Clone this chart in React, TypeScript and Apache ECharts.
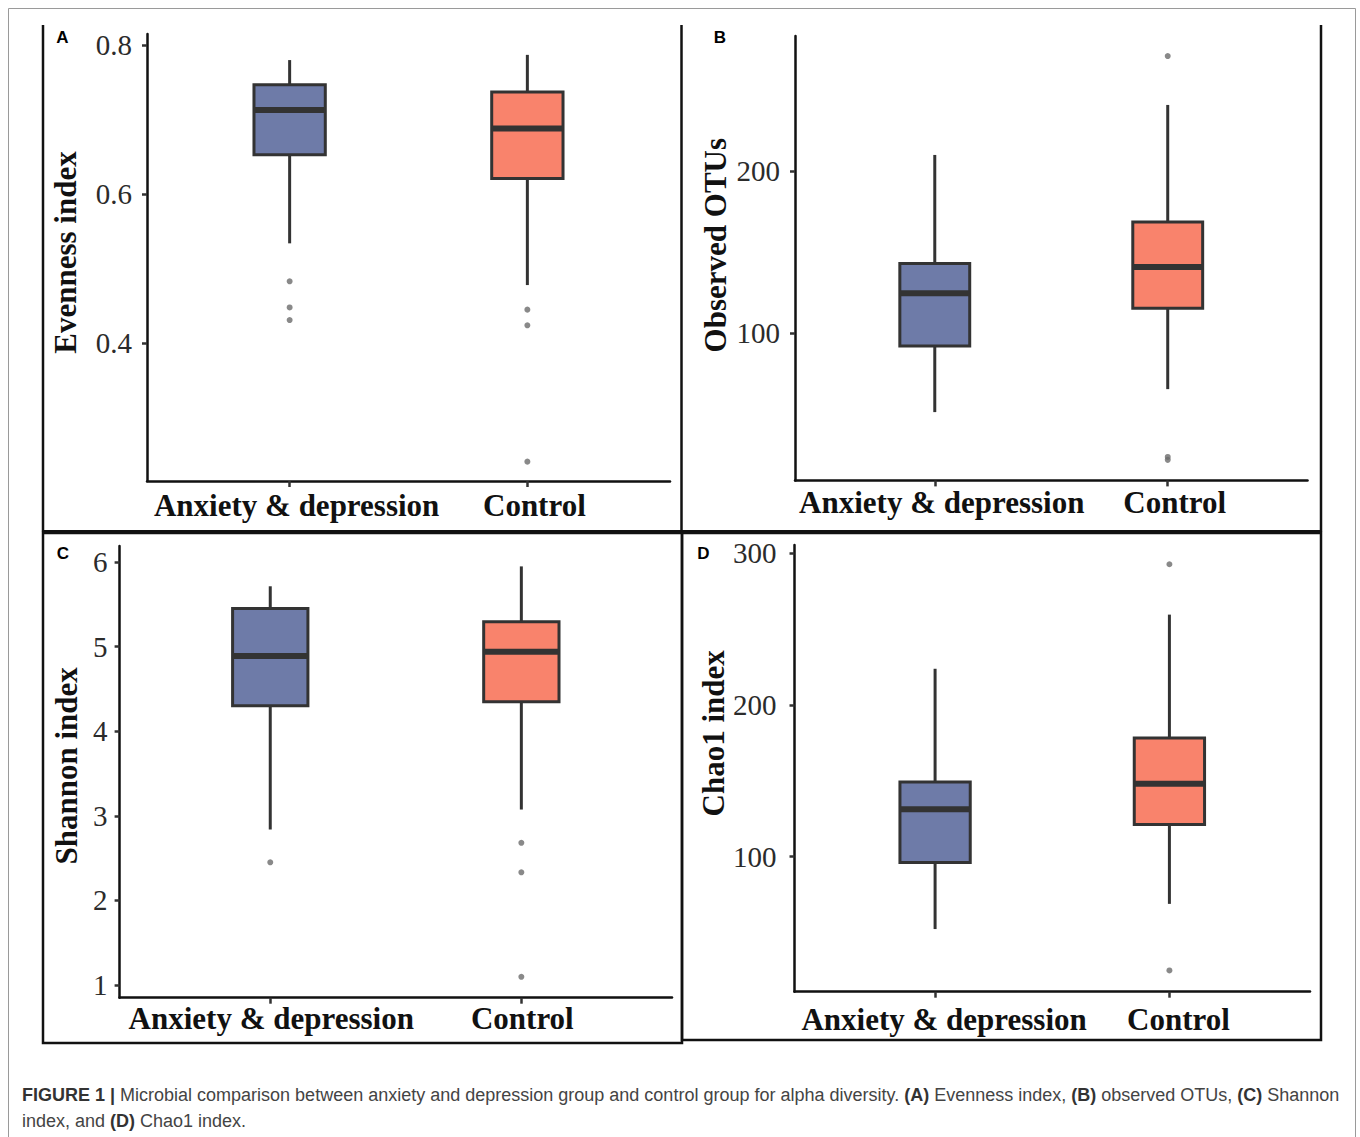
import React, { useEffect, useRef } from 'react';
import * as echarts from 'echarts';

// ---------------- data ----------------
const categories = ['Anxiety & depression', 'Control'];

// box statistics per group: [lower whisker, Q1, median, Q3, upper whisker]
const evennessStats = [
  [0.534, 0.653, 0.713, 0.747, 0.78],
  [0.478, 0.621, 0.688, 0.737, 0.787],
];
// outliers: [group position (1 = Anxiety & depression, 2 = Control), value]
const evennessOutliers = [
  [1, 0.483], [1, 0.448], [1, 0.431],
  [2, 0.445], [2, 0.424], [2, 0.241],
];
const evennessTicks = [0.4, 0.6, 0.8];

const otusStats = [
  [51.3, 92.1, 124.7, 143.2, 210.2],
  [65.5, 115.5, 140.9, 168.7, 241.1],
];
const otusOutliers = [[2, 271.3], [2, 23.6], [2, 21.8]];
const otusTicks = [100, 200];

const shannonStats = [
  [2.839, 4.302, 4.89, 5.451, 5.714],
  [3.075, 4.349, 4.941, 5.294, 5.949],
];
const shannonOutliers = [[1, 2.451], [2, 2.682], [2, 2.333], [2, 1.098]];
const shannonTicks = [1, 2, 3, 4, 5, 6];

const chao1Stats = [
  [52.3, 96.1, 131.3, 149.2, 223.9],
  [68.9, 121.2, 148.1, 178.3, 259.6],
];
const chao1Outliers = [[2, 292.8], [2, 25.0]];
const chao1Ticks = [100, 200, 300];

const panelTitles = ['Evenness index', 'Observed OTUs', 'Shannon index', 'Chao1 index'];
const panelLetters = ['A', 'B', 'C', 'D'];

// ---------------- layout / style ----------------
const SERIF = '"Liberation Serif", "Times New Roman", serif';
const SANS = '"Liberation Sans", Arial, sans-serif';
const groupColors = ['#6E7BA8', '#F9836C'];

const panels = [
  { stats: evennessStats, outliers: evennessOutliers, ticks: evennessTicks,
    left: 147, top: 34, width: 523, height: 447, yMin: 0.215, yMax: 0.815,
    nameGap: 66, nameShift: 5, xLabelMargin: 9, xLabelShift: 7, yLabelMargin: 15 },
  { stats: otusStats, outliers: otusOutliers, ticks: otusTicks,
    left: 795, top: 36, width: 512.5, height: 444.4, yMin: 9.1, yMax: 283.7,
    nameGap: 64, nameShift: 13, xLabelMargin: 6.5, xLabelShift: 7, yLabelMargin: 15 },
  { stats: shannonStats, outliers: shannonOutliers, ticks: shannonTicks,
    left: 119.6, top: 546, width: 552.4, height: 451.7, yMin: 0.851, yMax: 6.19,
    nameGap: 38, nameShift: 6, xLabelMargin: 5, xLabelShift: 1, yLabelMargin: 12 },
  { stats: chao1Stats, outliers: chao1Outliers, ticks: chao1Ticks,
    left: 794.5, top: 545, width: 515.5, height: 446.7, yMin: 11.0, yMax: 305.5,
    nameGap: 62, nameShift: 35, xLabelMargin: 12, xLabelShift: 9, yLabelMargin: 18 },
];

const letterPos = [[62.5, 37.5], [720, 37.5], [63, 553], [703.5, 553]];

function shiftPad(shift: number) {
  return shift >= 0 ? [0, 0, 0, shift * 2] : [0, -shift * 2, 0, 0];
}

function buildOption() {
  const grid: any[] = [];
  const xAxis: any[] = [];
  const yAxis: any[] = [];
  const series: any[] = [];

  panels.forEach((p, i) => {
    grid.push({ left: p.left, top: p.top, width: p.width, height: p.height, containLabel: false });
    xAxis.push({
      type: 'value', gridIndex: i, min: 0.4, max: 2.6,
      splitLine: { show: false },
      axisLine: { show: true, onZero: false, lineStyle: { color: '#111', width: 2.5 } },
      axisTick: { show: true, length: 6, customValues: [1, 2], lineStyle: { color: '#333', width: 2.5 } },
      axisLabel: {
        customValues: [1, 2],
        formatter: (v: number) => categories[Math.round(v) - 1] ?? '',
        fontFamily: SERIF, fontWeight: 'bold', fontSize: 31, color: '#111',
        margin: p.xLabelMargin, padding: shiftPad(p.xLabelShift),
      },
    });
    yAxis.push({
      type: 'value', gridIndex: i, min: p.yMin, max: p.yMax,
      name: panelTitles[i], nameLocation: 'middle', nameGap: p.nameGap, nameRotate: 90,
      nameTextStyle: { fontFamily: SERIF, fontWeight: 'bold', fontSize: 31, color: '#111', padding: shiftPad(p.nameShift) },
      splitLine: { show: false },
      axisLine: { show: true, onZero: false, lineStyle: { color: '#111', width: 2.5 } },
      axisTick: { show: true, length: 5, customValues: p.ticks, lineStyle: { color: '#333', width: 2.5 } },
      axisLabel: { customValues: p.ticks, fontFamily: SERIF, fontSize: 29, color: '#2b2b2b', margin: p.yLabelMargin },
    });
    series.push({
      type: 'custom', xAxisIndex: i, yAxisIndex: i, silent: true,
      data: p.stats.map((s, j) => [j + 1, ...s]),
      encode: { x: 0, y: [1, 2, 3, 4, 5] },
      renderItem: (params: any, api: any) => {
        const x = api.value(0);
        const lo = api.coord([x, api.value(1)]);
        const q1 = api.coord([x, api.value(2)]);
        const md = api.coord([x, api.value(3)]);
        const q3 = api.coord([x, api.value(4)]);
        const hi = api.coord([x, api.value(5)]);
        const bw = api.size([0.3, 0])[0];
        const hw = bw / 2;
        const stroke = '#333333';
        return {
          type: 'group',
          children: [
            { type: 'line', shape: { x1: lo[0], y1: lo[1], x2: q1[0], y2: q1[1] }, style: { stroke, lineWidth: 3 } },
            { type: 'line', shape: { x1: q3[0], y1: q3[1], x2: hi[0], y2: hi[1] }, style: { stroke, lineWidth: 3 } },
            { type: 'rect', shape: { x: q3[0] - hw, y: q3[1], width: bw, height: q1[1] - q3[1] },
              style: { fill: groupColors[Math.round(x) - 1], stroke, lineWidth: 3 } },
            { type: 'line', shape: { x1: md[0] - hw, y1: md[1], x2: md[0] + hw, y2: md[1] }, style: { stroke, lineWidth: 6 } },
          ],
        };
      },
    });
    series.push({
      type: 'scatter', xAxisIndex: i, yAxisIndex: i, silent: true,
      data: p.outliers, symbol: 'circle', symbolSize: 6,
      itemStyle: { color: '#6b6b6b' },
    });
  });

  const lineStyle = { stroke: '#111', lineWidth: 2.5 };
  const graphic: any[] = [
    { type: 'rect', shape: { x: 8.5, y: 8.5, width: 1347, height: 1140 }, style: { fill: 'none', stroke: '#9a9a9a', lineWidth: 1 }, silent: true },
    { type: 'line', shape: { x1: 43, y1: 25, x2: 43, y2: 532 }, style: lineStyle, silent: true },
    { type: 'line', shape: { x1: 681.5, y1: 25, x2: 681.5, y2: 532 }, style: lineStyle, silent: true },
    { type: 'line', shape: { x1: 1321, y1: 25, x2: 1321, y2: 532 }, style: lineStyle, silent: true },
    { type: 'line', shape: { x1: 42, y1: 532, x2: 1322, y2: 532 }, style: { stroke: '#111', lineWidth: 4 }, silent: true },
    { type: 'rect', shape: { x: 43, y: 533, width: 639, height: 510 }, style: { fill: 'none', stroke: '#111', lineWidth: 2.5 }, silent: true },
    { type: 'rect', shape: { x: 682, y: 533, width: 639, height: 507 }, style: { fill: 'none', stroke: '#111', lineWidth: 2.5 }, silent: true },
  ];
  panelLetters.forEach((l, i) => {
    graphic.push({
      type: 'text', x: letterPos[i][0], y: letterPos[i][1], silent: true,
      style: { text: l, fontFamily: SANS, fontWeight: 'bold', fontSize: 17, fill: '#000', align: 'center', verticalAlign: 'middle' },
    });
  });
  const capRich = {
    b: { fontFamily: SANS, fontWeight: 'bold', fontSize: 18, fill: '#333' },
    r: { fontFamily: SANS, fontWeight: 'normal', fontSize: 18, fill: '#444' },
  };
  graphic.push({
    type: 'text', x: 22, y: 1095, silent: true,
    style: {
      text: '{b|FIGURE 1 |}{r| Microbial comparison between anxiety and depression group and control group for alpha diversity. }{b|(A)}{r| Evenness index, }{b|(B)}{r| observed OTUs, }{b|(C)}{r| Shannon}',
      rich: capRich, fontFamily: SANS, fontSize: 18, fill: '#444', verticalAlign: 'middle', align: 'left',
    },
  });
  graphic.push({
    type: 'text', x: 22, y: 1121, silent: true,
    style: {
      text: '{r|index, and }{b|(D)}{r| Chao1 index.}',
      rich: capRich, fontFamily: SANS, fontSize: 18, fill: '#444', verticalAlign: 'middle', align: 'left',
    },
  });

  return {
    animation: false,
    backgroundColor: '#ffffff',
    grid, xAxis, yAxis, series, graphic,
  };
}

export default function App() {
  const ref = useRef<HTMLDivElement>(null);
  useEffect(() => {
    document.body.style.margin = '0';
    if (!ref.current) return;
    const chart = echarts.init(ref.current, null, { renderer: 'svg' });
    chart.setOption(buildOption() as any);
    return () => chart.dispose();
  }, []);
  return <div ref={ref} style={{ width: 1360, height: 1137 }} />;
}
